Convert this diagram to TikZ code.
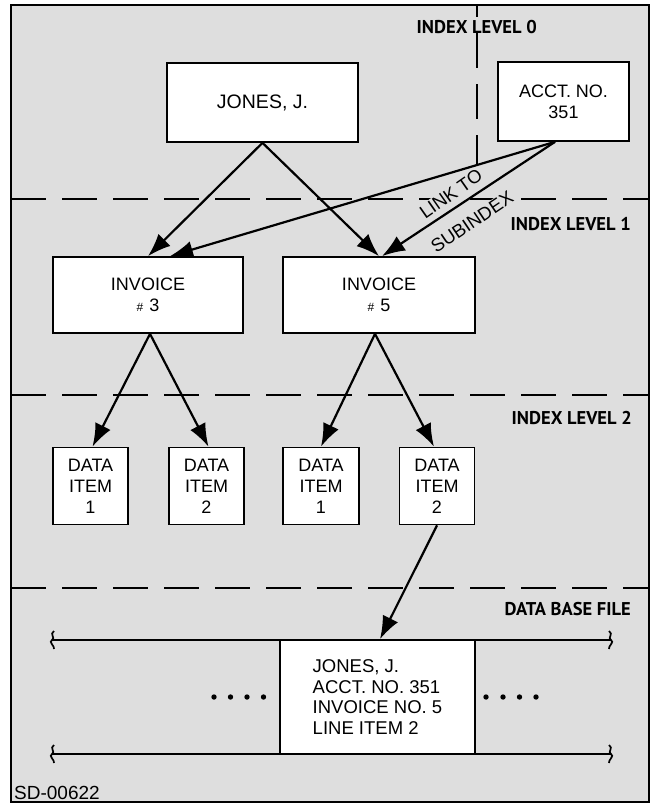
\documentclass[tikz,border=0pt]{standalone}
\usepackage{fontspec}
\setmainfont{Liberation Sans}
\newfontfamily\levelfont{PT Sans}
\usetikzlibrary{arrows.meta,calc}
\colorlet{paper}{black!13}
\begin{document}
\begin{tikzpicture}[x=1pt,y=-1pt,
  box/.style={draw,line width=1.7pt,fill=white,inner sep=0pt,align=center,
    font=\fontsize{18}{21}\selectfont},
  level/.style={font=\levelfont\bfseries\fontsize{18.5}{18.5}\selectfont,anchor=east,inner sep=0pt},
  link/.style={line width=2.2pt,-{Latex[length=23pt,width=17pt]}},
  divider/.style={line width=2pt,dash pattern=on 35pt off 16pt},
  rule/.style={line width=2.4pt},
  tag/.style={font=\fontsize{18.5}{18.5}\selectfont,inner sep=0pt},
]
\useasboundingbox (0,0) rectangle (652,806);
\fill[white] (0,0) rectangle (652,806);
% frame
\draw[line width=1.8pt,fill=paper] (11,5) rectangle (649,802);

% level dividers
\draw[divider] (11,199) -- (649,199);
\draw[divider] (11,395) -- (649,395);
\draw[divider] (11,588) -- (649,588);
\draw[divider,dash phase=23pt] (477,5) -- (477,165);

% level labels
\node[level] (lv0) at (537,27) {INDEX LEVEL 0};
\node[level] (lv1) at (631,224) {INDEX LEVEL 1};
\node[level] (lv2) at (632,418) {INDEX LEVEL 2};
\node[level] (dbf) at (631,609) {DATA BASE FILE};

% link label, set over the divider
\node[tag,rotate=35,fill=paper,inner sep=1.5pt] (lt) at (451,194) {LINK TO};
\node[tag,rotate=34,fill=paper,inner sep=1pt] (sub) at (472,222) {SUBINDEX};

% index level 0
\node[box,minimum width=191pt,minimum height=79pt,font=\fontsize{19.5}{22}\selectfont]
  (jones) at (262.5,102.5) {JONES, J.};
\node[box,minimum width=131pt,minimum height=79pt] (acct) at (563.5,101.5) {ACCT. NO.\\351};

% index level 1
\node[box,minimum width=190pt,minimum height=76pt] (inv3) at (148,295)
  {INVOICE\\{\fontsize{12}{12}\selectfont\#}\,\,3};
\node[box,minimum width=192pt,minimum height=76pt] (inv5) at (379,295)
  {INVOICE\\{\fontsize{12}{12}\selectfont\#}\,\,5};

% index level 2
\node[box,minimum width=75pt,minimum height=77pt] (d1) at (90.5,486) {DATA\\ITEM\\1};
\node[box,minimum width=75pt,minimum height=77pt] (d2) at (206.5,486) {DATA\\ITEM\\2};
\node[box,minimum width=76pt,minimum height=77pt] (d3) at (321,486) {DATA\\ITEM\\1};
\node[box,minimum width=75pt,minimum height=77pt] (d4) at (437,486) {DATA\\ITEM\\2};

% data base file record strip
\draw[rule] (52,640) -- (611,640);
\draw[rule] (52,754) -- (611,754);
\foreach \x/\y in {52/640,52/754} {
  \draw[line width=1.7pt] (\x+2,\y-9) .. controls (\x-3,\y-6) and (\x+4,\y-2) .. (\x,\y)
    .. controls (\x-4,\y+2) and (\x+3,\y+6) .. (\x+2,\y+9);
}
\foreach \x/\y in {611/640,611/754} {
  \draw[line width=1.7pt] (\x-2,\y-9) .. controls (\x+3,\y-6) and (\x-4,\y-2) .. (\x,\y)
    .. controls (\x+4,\y+2) and (\x-3,\y+6) .. (\x-2,\y+9);
}
\node[box,minimum width=195pt,minimum height=114pt,align=left,
  font=\fontsize{18.5}{20.5}\selectfont] (rec) at (377.5,697)
  {JONES, J.\\ACCT. NO. 351\\INVOICE NO. 5\\LINE ITEM 2};
\foreach \x in {214,230.5,247,263.5,486,503,519.5,536} \fill (\x,697) circle (2.7pt);

% connectors
\coordinate (acctlink) at ([xshift=-8.5pt]acct.south);
\draw[link] (jones.south) -- (inv3.north);
\draw[link] (jones.south) -- (inv5.north);
\draw[link] (acctlink) -- ([xshift=22pt]inv3.north);
\draw[link] (acctlink) -- ([xshift=3pt]inv5.north);
\draw[link] ([xshift=2pt]inv3.south) -- ([xshift=2pt]d1.north);
\draw[link] ([xshift=2pt]inv3.south) -- ([xshift=2pt]d2.north);
\draw[link] ([xshift=-4pt]inv5.south) -- (d3.north);
\draw[link] ([xshift=-4pt]inv5.south) -- ([xshift=-3pt]d4.north);
\draw[link] (d4.south) -- ([xshift=2.5pt]rec.north);

% drawing number
\node[tag,anchor=west,font=\fontsize{19}{19}\selectfont] (sd) at (14,793) {SD-00622};
\end{tikzpicture}
\end{document}
